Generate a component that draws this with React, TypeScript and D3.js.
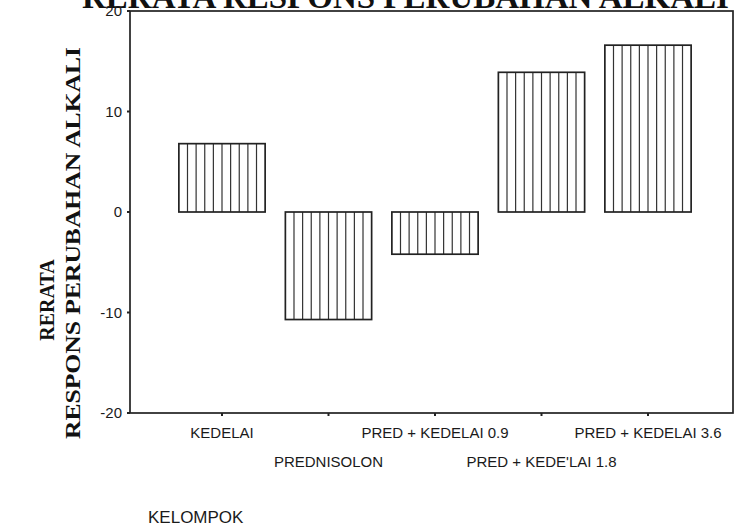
import React from "react";
import * as d3 from "d3";

const categories = [
  "KEDELAI",
  "PREDNISOLON",
  "PRED + KEDELAI 0.9",
  "PRED + KEDE'LAI 1.8",
  "PRED + KEDELAI 3.6",
];
const values = [6.8, -10.7, -4.2, 13.9, 16.6];
const yTicks = [20, 10, 0, -10, -20];
const chartTitle = "RERATA RESPONS PERUBAHAN ALKALI";
const yTitle1 = "RERATA";
const yTitle2 = "RESPONS PERUBAHAN ALKALI";
const xTitle = "KELOMPOK";

const W = 740;
const H = 526;
const left = 130;
const right = 733;
const top = 11;
const bottom = 413;

export default function App() {
  const y = d3.scaleLinear().domain([-20, 20]).range([bottom, top]);
  const x = d3
    .scaleBand<string>()
    .domain(categories)
    .range([168.75, 701.25])
    .paddingInner(0.19)
    .paddingOuter(0.095);
  const bw = x.bandwidth();
  const sans = "'Liberation Sans', Arial, sans-serif";
  const serif = "'Liberation Serif', 'Times New Roman', serif";

  return (
    <div style={{ position: "fixed", left: 0, top: 0, width: W, height: H, background: "#fff" }}>
      <svg width={W} height={H} style={{ display: "block" }}>
        <rect width={W} height={H} fill="#fff" />
        {/* cut-off title */}
        <text
          x={82}
          y={8}
          fontFamily={serif}
          fontWeight="bold"
          fontSize={33}
          fill="#111"
        >
          {chartTitle}
        </text>

        {/* bars */}
        {categories.map((c, i) => {
          const x0 = x(c)!;
          const v = values[i];
          const yTop = y(Math.max(0, v));
          const yBot = y(Math.min(0, v));
          const lines = d3.range(1, 10).map((k) => x0 + (bw * k) / 10);
          return (
            <g key={c}>
              <rect x={x0} y={yTop} width={bw} height={yBot - yTop} fill="#fff" />
              {lines.map((lx, j) => (
                <line
                  key={j}
                  x1={lx}
                  x2={lx}
                  y1={yTop}
                  y2={yBot}
                  stroke="#333"
                  strokeWidth={1.2}
                />
              ))}
              <rect
                x={x0}
                y={yTop}
                width={bw}
                height={yBot - yTop}
                fill="none"
                stroke="#222"
                strokeWidth={1.7}
              />
            </g>
          );
        })}

        {/* frame */}
        <rect
          x={left}
          y={top}
          width={right - left}
          height={bottom - top}
          fill="none"
          stroke="#222"
          strokeWidth={1.7}
        />

        {/* y ticks */}
        {yTicks.map((t) => (
          <g key={t}>
            <line x1={left - 3} x2={left} y1={y(t)} y2={y(t)} stroke="#222" strokeWidth={2} />
            <text
              x={left - 8}
              y={y(t)}
              dy="0.35em"
              textAnchor="end"
              fontFamily={sans}
              fontSize={15}
              fill="#1a1a1a"
            >
              {t}
            </text>
          </g>
        ))}

        {/* x ticks and labels */}
        {categories.map((c, i) => {
          const cx = x(c)! + bw / 2;
          return (
            <g key={c}>
              <line x1={cx} x2={cx} y1={bottom} y2={bottom + 3} stroke="#222" strokeWidth={2} />
              <text
                x={cx}
                y={i % 2 === 0 ? 438 : 467}
                textAnchor="middle"
                fontFamily={sans}
                fontSize={15}
                fill="#1a1a1a"
              >
                {c}
              </text>
            </g>
          );
        })}

        {/* x title */}
        <text x={148} y={523} fontFamily={sans} fontSize={17} fill="#1a1a1a">
          {xTitle}
        </text>

        {/* y title */}
        <text
          transform={`translate(54,${300}) rotate(-90)`}
          textAnchor="middle"
          fontFamily={serif}
          fontWeight="bold"
          fontSize={20}
          fill="#111"
        >
          {yTitle1}
        </text>
        <text
          transform={`translate(80,${243}) rotate(-90)`}
          textAnchor="middle"
          fontFamily={serif}
          fontWeight="bold"
          fontSize={20}
          textLength={392}
          lengthAdjust="spacingAndGlyphs"
          fill="#111"
        >
          {yTitle2}
        </text>
      </svg>
    </div>
  );
}
